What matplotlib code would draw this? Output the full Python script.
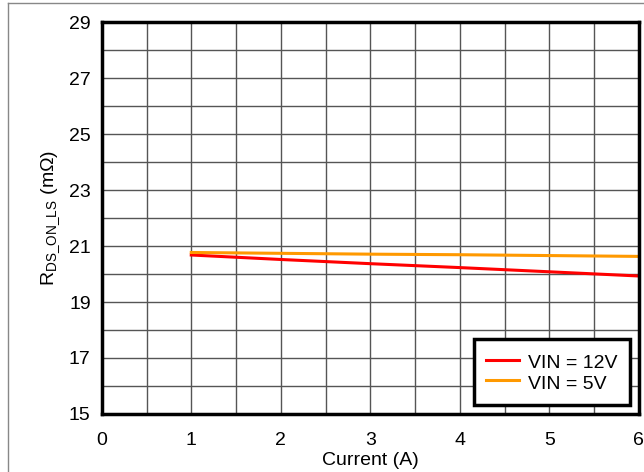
import matplotlib.pyplot as plt
from matplotlib.lines import Line2D
import numpy as np

plt.rcParams['font.family'] = ['Liberation Sans', 'DejaVu Sans']
plt.rcParams['mathtext.fontset'] = 'custom'
plt.rcParams['mathtext.rm'] = 'Liberation Sans'

# data
current = [1, 2, 3, 4, 5, 6]
rds_12v = [20.68, 20.52, 20.37, 20.23, 20.08, 19.93]
rds_5v = [20.77, 20.74, 20.71, 20.69, 20.66, 20.63]

xticks = [0, 1, 2, 3, 4, 5, 6]
yticks = [15, 17, 19, 21, 23, 25, 27, 29]

fig = plt.figure(figsize=(6.44, 4.72), dpi=100)
ax = fig.add_axes([0.158, 0.123, 0.834, 0.830])

ax.plot(current, rds_12v, color='#ff0000', lw=2.2, label='VIN = 12V')
ax.plot(current, rds_5v, color='#ff9900', lw=2.2, label='VIN = 5V')

ax.set_xlim(0, 6)
ax.set_ylim(15, 29)
ax.set_xticks(xticks)
ax.set_yticks(yticks)
ax.set_xticks(np.arange(0, 6.01, 0.5), minor=True)
ax.set_yticks(np.arange(15, 29.01, 1), minor=True)
ax.grid(which='both', color='#555555', lw=1)
ax.tick_params(which='both', length=0, labelsize=14)
ax.tick_params(axis='x', pad=13)
ax.tick_params(axis='y', pad=8)

for s in ax.spines.values():
    s.set_linewidth(2.5)

ax.set_xlabel('Current (A)', fontsize=14, labelpad=2)
ax.set_ylabel(r'R$_{\mathregular{DS\_ON\_LS}}$ (m$\Omega$)', fontsize=14, labelpad=5)

leg = ax.legend(loc='lower right', fontsize=14, fancybox=False, framealpha=1,
                edgecolor='black', borderaxespad=0.45, handlelength=1.7,
                handletextpad=0.45, handleheight=1.2, labelspacing=0.0,
                borderpad=0.65)
leg.get_frame().set_linewidth(2.5)

# outer frame of the source figure
fig.add_artist(Line2D([0.013, 0.013], [0, 0.994], color='#888888', lw=1))
fig.add_artist(Line2D([0.013, 1], [0.994, 0.994], color='#888888', lw=1))

fig.savefig('out.png', dpi=100)
